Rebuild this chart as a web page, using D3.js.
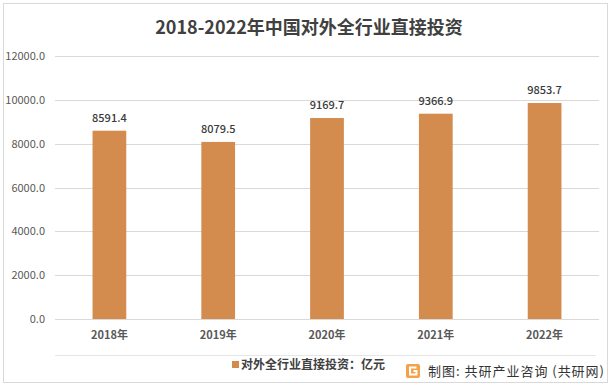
<!DOCTYPE html>
<html>
<head>
<meta charset="utf-8" />
<title>2018-2022年中国对外全行业直接投资</title>
<style>
	body { margin: 0; background: #fff; font-family: 'Noto Sans CJK SC', 'DejaVu Sans', sans-serif; }
	.grid line { stroke: #d9d9d9; stroke-width: 1; }
	.yaxis text { fill: #595959; font-size: 11px; }
	.xaxis text { fill: #595959; font-size: 11px; font-weight: bold; }
</style>
</head>
<body>
<script src="https://d3js.org/d3.v7.min.js"></script>
<script>
	// data
	var years = ["2018年", "2019年", "2020年", "2021年", "2022年"];
	var values = [8591.4, 8079.5, 9169.7, 9366.9, 9853.7];
	var yTicks = [0, 2000, 4000, 6000, 8000, 10000, 12000];

	var width = 613, height = 388;
	var svg = d3.select("body").append("svg")
		.attr("width", width)
		.attr("height", height);

	// frame
	svg.append("rect")
		.attr("x", 3.5).attr("y", 3.5)
		.attr("width", 604).attr("height", 379)
		.attr("fill", "#fff")
		.attr("stroke", "#d9d9d9");

	var x = d3.scaleBand().domain(years).range([55, 599]).paddingInner(0.69).paddingOuter(0.345);
	var y = d3.scaleLinear().domain([0, 12000]).range([319, 56]);

	// title
	svg.append("text")
		.attr("x", 309).attr("y", 34)
		.attr("text-anchor", "middle")
		.attr("fill", "#404040")
		.attr("font-size", "18px")
		.attr("font-weight", "bold")
		.text("2018-2022年中国对外全行业直接投资");

	// gridlines
	svg.append("g").attr("class", "grid")
		.selectAll("line").data(yTicks).enter().append("line")
		.attr("x1", 55).attr("x2", 599)
		.attr("y1", function(d) { return Math.round(y(d)) + 0.5; })
		.attr("y2", function(d) { return Math.round(y(d)) + 0.5; });

	// y axis labels
	var yAxis = d3.axisLeft(y).tickValues(yTicks).tickSize(0).tickPadding(0)
		.tickFormat(function(d) { return d.toFixed(1); });
	svg.append("g").attr("class", "yaxis")
		.attr("transform", "translate(45,0)")
		.call(yAxis)
		.call(function(g) { g.select(".domain").remove(); })
		.selectAll("text").attr("font-family", "'Noto Sans CJK SC', sans-serif");

	// bars
	svg.append("g").selectAll("rect").data(values).enter().append("rect")
		.attr("x", function(d, i) { return x(years[i]); })
		.attr("y", function(d) { return y(d); })
		.attr("width", x.bandwidth())
		.attr("height", function(d) { return y(0) - y(d); })
		.attr("fill", "#d38b4e");

	// value labels
	svg.append("g").selectAll("text").data(values).enter().append("text")
		.attr("x", function(d, i) { return x(years[i]) + x.bandwidth() / 2; })
		.attr("y", function(d) { return y(d) - 9; })
		.attr("text-anchor", "middle")
		.attr("fill", "#3a3a3a")
		.attr("font-size", "11px")
		.attr("font-weight", 500)
		.text(function(d) { return d.toFixed(1); });

	// x axis labels
	var xAxis = d3.axisBottom(x).tickSize(0).tickPadding(0);
	svg.append("g").attr("class", "xaxis")
		.attr("transform", "translate(0,331)")
		.call(xAxis)
		.call(function(g) { g.select(".domain").remove(); })
		.selectAll("text").attr("font-family", "'Noto Sans CJK SC', sans-serif");

	// separator line
	svg.append("line")
		.attr("x1", 55).attr("x2", 596)
		.attr("y1", 355.5).attr("y2", 355.5)
		.attr("stroke", "#e6e6e6");

	// legend
	svg.append("rect")
		.attr("x", 232).attr("y", 361).attr("width", 7).attr("height", 7)
		.attr("fill", "#d38b4e");
	svg.append("text")
		.attr("x", 241).attr("y", 369)
		.attr("fill", "#404040")
		.attr("font-size", "12px")
		.attr("font-weight", "bold")
		.text("对外全行业直接投资：亿元");

	// source logo
	var logo = svg.append("g").attr("transform", "translate(406,364)");
	logo.append("rect").attr("width", 14).attr("height", 14).attr("rx", 2).attr("fill", "#f5a04a");
	logo.append("path").attr("d", "M10.5,3.5 H4 V10.5 H10.5 V7 H7.5").attr("fill", "none").attr("stroke", "#fff").attr("stroke-width", 2);
	svg.append("text")
		.attr("x", 428).attr("y", 376)
		.attr("fill", "#333")
		.attr("font-size", "13px")
		.attr("textLength", 176)
		.attr("lengthAdjust", "spacing")
		.text("制图: 共研产业咨询 (共研网)");
</script>
</body>
</html>
